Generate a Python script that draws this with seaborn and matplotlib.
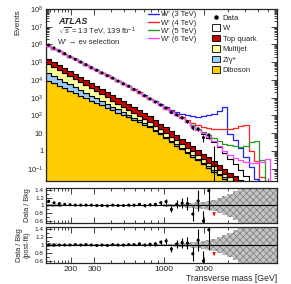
import numpy as np
import pandas as pd
import seaborn as sns
import matplotlib
matplotlib.use("Agg")
import matplotlib.pyplot as plt
from matplotlib.ticker import FixedLocator, FuncFormatter, LogLocator, NullFormatter, MultipleLocator, FormatStrFormatter
from matplotlib.lines import Line2D
from matplotlib.patches import Patch

sns.set_theme(style="ticks")
plt.rcParams["font.family"] = ["Liberation Sans", "DejaVu Sans"]
plt.rcParams["mathtext.fontset"] = "custom"
plt.rcParams["mathtext.rm"] = "Liberation Sans"
plt.rcParams["mathtext.it"] = "Liberation Sans:italic"
plt.rcParams["mathtext.bf"] = "Liberation Sans:bold"
plt.rcParams["hatch.linewidth"] = 0.5

# ---------------- data ----------------
bin_edges = [130, 142.5, 156.3, 171.4, 187.9, 206.0, 225.9, 247.7, 271.6, 297.8, 326.5, 358.0,
             392.6, 430.5, 472.0, 517.5, 567.5, 622.2, 682.3, 748.1, 820.2, 899.4, 986.2,
             1081.3, 1185.6, 1300, 1425.5, 1563, 1713.8, 1879, 2060, 2259, 2477, 2716, 2978,
             3265, 3580, 3926, 4305, 4720, 5175, 5675, 6222, 7000]

# log10 of the stack top after each process (W top = total background)
top_w_log = [5.92, 5.77, 5.62, 5.47, 5.31, 5.16, 5.01, 4.86, 4.70, 4.55, 4.40, 4.25, 4.10, 3.94, 3.79,
             3.64, 3.46, 3.29, 3.11, 2.93, 2.75, 2.56, 2.38, 2.20, 2.02, 1.84, 1.63, 1.41, 1.19, 0.97,
             0.75, 0.52, 0.20, -0.12, -0.44, -0.76, -1.08, -1.40, -1.72, -2.06, -2.40, -2.74, -3.12]
top_top_log = [5.17, 5.00, 4.83, 4.66, 4.49, 4.32, 4.15, 3.98, 3.82, 3.65, 3.48, 3.31, 3.14, 2.97, 2.80,
               2.63, 2.46, 2.30, 2.13, 1.96, 1.75, 1.54, 1.32, 1.11, 0.90, 0.69, 0.48, 0.26, 0.05, -0.16,
               -0.37, -0.58, -0.80, -1.01, -1.22, -1.43, -1.64, -1.86, -2.10, -2.45, -2.80, -3.15, -3.50]
top_mj_log = [4.91, 4.74, 4.57, 4.40, 4.22, 4.05, 3.88, 3.70, 3.53, 3.36, 3.19, 3.01, 2.84, 2.67, 2.49,
              2.32, 2.15, 1.98, 1.80, 1.63, 1.42, 1.21, 1.01, 0.80, 0.59, 0.38, 0.17, -0.03, -0.24, -0.45,
              -0.66, -0.87, -1.07, -1.28, -1.49, -1.70, -1.91, -2.11, -2.35, -2.70, -3.05, -3.40, -3.75]
top_z_log = [4.37, 4.22, 4.06, 3.90, 3.75, 3.59, 3.44, 3.28, 3.12, 2.97, 2.81, 2.66, 2.50, 2.34, 2.19,
             2.03, 1.88, 1.72, 1.56, 1.41, 1.20, 0.99, 0.79, 0.58, 0.37, 0.17, -0.04, -0.25, -0.46, -0.66,
             -0.87, -1.08, -1.29, -1.49, -1.70, -1.91, -2.11, -2.32, -2.55, -2.90, -3.25, -3.60, -3.95]
top_db_log = [3.93, 3.80, 3.66, 3.52, 3.39, 3.25, 3.11, 2.98, 2.84, 2.70, 2.57, 2.43, 2.30, 2.16, 2.02,
              1.89, 1.75, 1.61, 1.48, 1.34, 1.13, 0.93, 0.72, 0.51, 0.30, 0.09, -0.12, -0.33, -0.54, -0.75,
              -0.96, -1.17, -1.38, -1.59, -1.80, -2.01, -2.22, -2.43, -2.65, -3.00, -3.35, -3.70, -4.05]

# log10 of W' signal contents (stacked on top of the background)
sig3_log = [1.0, 1.05, 1.1, 1.15, 1.2, 1.25, 1.3, 1.33, 1.36, 1.4, 1.43, 1.46, 1.49, 1.52, 1.55, 1.57,
            1.6, 1.62, 1.64, 1.66, 1.68, 1.7, 1.71, 1.72, 1.73, 1.74, 1.76, 1.79, 1.84, 1.9, 1.98, 2.08,
            2.22, 2.5, 0.95, 0.6, 0.15, -0.4, -1.0, -1.8, -2.5, -3.0, -3.5]
sig4_log = [0.3, 0.35, 0.4, 0.45, 0.5, 0.55, 0.6, 0.63, 0.66, 0.7, 0.73, 0.76, 0.79, 0.82, 0.85, 0.87,
            0.9, 0.92, 0.94, 0.96, 0.98, 1.0, 1.02, 1.04, 1.06, 1.08, 1.1, 1.12, 1.14, 1.15, 1.16, 1.17,
            1.18, 1.2, 1.24, 1.3, 1.38, 1.45, 0.0, -0.6, -1.5, -2.5, -3.0]
sig5_log = [-0.2, -0.17, -0.14, -0.11, -0.08, -0.05, -0.02, 0.0, 0.02, 0.04, 0.06, 0.08, 0.1, 0.12,
            0.14, 0.16, 0.18, 0.2, 0.22, 0.24, 0.26, 0.28, 0.29, 0.3, 0.31, 0.32, 0.32, 0.32, 0.32,
            0.31, 0.3, 0.29, 0.27, 0.25, 0.23, 0.22, 0.22, 0.25, 0.52, 0.55, -0.5, -2.5, -3.0]
sig6_log = [-1.2, -1.17, -1.14, -1.11, -1.08, -1.05, -1.02, -0.99, -0.96, -0.93, -0.9, -0.87, -0.84,
            -0.81, -0.78, -0.75, -0.72, -0.7, -0.68, -0.66, -0.64, -0.62, -0.6, -0.58, -0.57, -0.56,
            -0.55, -0.55, -0.55, -0.55, -0.56, -0.57, -0.58, -0.6, -0.62, -0.64, -0.66, -0.68, -0.7,
            -0.7, -0.62, -0.45, -3.0]

# data / background ratios (pre-fit and post-fit) for the populated bins
ratio_prefit = [1.11, 1.07, 1.05, 1.03, 1.02, 1.01, 1.01, 1.01, 1.01, 1.00, 1.00, 0.99, 1.01, 1.00, 1.00,
                1.01, 1.01, 1.03, 1.00, 1.02, 1.03, 1.07, 1.10, 0.90, 1.03, 1.06, 1.05, 0.78, 1.12, 0.60, 1.38]
ratio_postfit = [1.00, 1.00, 1.00, 1.00, 1.00, 1.01, 1.00, 1.01, 1.00, 0.99, 1.00, 0.99, 1.01, 1.00, 1.00,
                 1.01, 1.01, 1.03, 1.00, 1.02, 1.03, 1.07, 1.10, 0.90, 1.03, 1.06, 1.05, 0.78, 1.12, 0.60, 1.38]
empty_bin = 31          # bin with zero observed events
zero_upper = 1.84       # Poisson upper error for zero events
bkg_unc = [0.05, 0.04, 0.03, 0.025, 0.02, 0.02, 0.02, 0.02, 0.02, 0.02, 0.02, 0.02, 0.02, 0.02, 0.02,
           0.02, 0.02, 0.02, 0.02, 0.02, 0.02, 0.025, 0.03, 0.035, 0.04, 0.05, 0.06, 0.07, 0.08, 0.10,
           0.12, 0.15, 0.19, 0.24, 0.30, 0.38, 0.46, 0.5, 0.5, 0.5, 0.5, 0.5, 0.5]

processes = ["W", "Top quark", "Multijet", "Z/γ*", "Diboson"]
proc_colors = {"W": "#ffffff", "Top quark": "#cc0000", "Multijet": "#ffff99",
               "Z/γ*": "#99ccff", "Diboson": "#ffcc00"}
signal_labels = ["W' (3 TeV)", "W' (4 TeV)", "W' (5 TeV)", "W' (6 TeV)"]
signal_colors = ["#2222ff", "#ff2222", "#229922", "#ff44ff"]

# ---------------- derived tables ----------------
edges = np.array(bin_edges, dtype=float)
centers = np.sqrt(edges[:-1] * edges[1:])
tops = [10 ** np.array(t) for t in (top_w_log, top_top_log, top_mj_log, top_z_log, top_db_log)]
contents = [tops[i] - tops[i + 1] for i in range(4)] + [tops[4]]
bkg_total = tops[0]
rows = []
for name, c in zip(processes, contents):
    for x, w in zip(centers, c):
        rows.append({"mT": x, "events": w, "process": name})
df = pd.DataFrame(rows)

nd = len(ratio_prefit)
data = bkg_total[:nd] * np.array(ratio_prefit)
data_err = np.sqrt(data)
postfit_bkg = data / np.array(ratio_postfit)

# ---------------- figure ----------------
fig = plt.figure(figsize=(2.91, 2.84), dpi=100)
W, H = 291.0, 284.0
ax = fig.add_axes([46 / W, 1 - 181 / H, 231 / W, 172 / H])
ax1 = fig.add_axes([46 / W, 1 - 223 / H, 231 / W, 35 / H], sharex=ax)
ax2 = fig.add_axes([46 / W, 1 - 263 / H, 231 / W, 36 / H], sharex=ax)

sns.histplot(data=df, x="mT", weights="events", hue="process", hue_order=processes,
             multiple="stack", bins=list(bin_edges), element="step", fill=True, palette=proc_colors,
             edgecolor="black", linewidth=0.8, alpha=1, legend=False, ax=ax)

for s, col in zip((sig3_log, sig4_log, sig5_log, sig6_log), signal_colors):
    sns.histplot(x=centers, weights=bkg_total + 10 ** np.array(s), bins=list(bin_edges), element="step",
                 fill=False, color=col, linewidth=0.9, ax=ax, zorder=4)

ax.errorbar(centers[:nd], data, yerr=data_err, fmt="none", ecolor="black", elinewidth=0.8, zorder=5)
sns.scatterplot(x=centers[:nd], y=data, color="black", s=5, edgecolor="none", ax=ax, zorder=6)
ax.vlines(centers[empty_bin], 1e-3, zero_upper, color="black", lw=0.8, zorder=5)

ax.set_xscale("log")
ax.set_yscale("log")
ax.set_xlim(edges[0], edges[-1])
ax.set_ylim(0.02, 1e8)


def ylab(v, pos):
    if abs(v - 1) < 1e-9:
        return "1"
    if abs(v - 10) < 1e-9:
        return "10"
    return r"$10^{%d}$" % int(round(np.log10(v)))


ax.yaxis.set_major_locator(LogLocator(base=10, numticks=20))
ax.yaxis.set_minor_locator(LogLocator(base=10, subs=np.arange(2, 10), numticks=20))
ax.yaxis.set_major_formatter(FuncFormatter(ylab))
ax.yaxis.set_minor_formatter(NullFormatter())

xmaj = [200, 300, 1000, 2000]
xmin = [140, 150, 160, 170, 180, 190, 400, 500, 600, 700, 800, 900, 3000, 4000, 5000, 6000, 7000]
for a in (ax, ax1, ax2):
    a.xaxis.set_major_locator(FixedLocator(xmaj))
    a.xaxis.set_minor_locator(FixedLocator(xmin))
    a.xaxis.set_minor_formatter(NullFormatter())
    a.tick_params(which="both", direction="in", top=True, right=True, labelsize=6, pad=2, width=0.6)
    a.tick_params(which="major", length=4)
    a.tick_params(which="minor", length=2)
    for sp in a.spines.values():
        sp.set_linewidth(0.9)
ax.tick_params(labelbottom=False, labelsize=5.5)
ax1.tick_params(labelbottom=False)
ax2.xaxis.set_major_formatter(FormatStrFormatter("%d"))

# ratio panels
unc = np.array(bkg_unc)
lo = np.append(1 - unc, 1 - unc[-1])
hi = np.append(1 + unc, 1 + unc[-1])
for a, r, bk in ((ax1, ratio_prefit, bkg_total[:nd]), (ax2, ratio_postfit, postfit_bkg)):
    a.fill_between(edges, lo, hi, step="post", facecolor="#c4c4c4", hatch="xxxxx",
                   edgecolor="#7a7a7a", linewidth=0, zorder=1)
    a.axhline(1, color="black", lw=0.8, zorder=2)
    rerr = data_err / bk
    a.errorbar(centers[:nd], r, yerr=rerr, fmt="none", ecolor="black", elinewidth=0.8, zorder=4)
    sns.scatterplot(x=centers[:nd], y=r, color="black", s=5, edgecolor="none", ax=a, zorder=5)
    a.annotate("", xy=(centers[empty_bin], 0.66), xytext=(centers[empty_bin], 0.84),
               arrowprops=dict(arrowstyle="-|>", color="red", lw=0.7, mutation_scale=4), zorder=6)
    a.set_ylim(0.55, 1.45)
    a.yaxis.set_major_locator(FixedLocator([0.6, 0.8, 1.0, 1.2, 1.4]))
    a.yaxis.set_major_formatter(FormatStrFormatter("%g"))
    a.yaxis.set_minor_locator(MultipleLocator(0.1))
    a.tick_params(axis="y", labelsize=4.6, pad=1.5)

ax.set_xlabel("")
ax1.set_xlabel("")
ax.set_ylabel("Events", loc="top", fontsize=6)
ax1.set_ylabel("Data / Bkg", fontsize=5.2, labelpad=3)
ax2.set_ylabel("Data / Bkg\n(post-fit)", fontsize=5.2, linespacing=1.1, labelpad=3)
ax2.set_xlabel("Transverse mass [GeV]", loc="right", fontsize=6.2, labelpad=1)

# text
fig.text(58 / W, 1 - 21 / H, "ATLAS", fontsize=6.5, fontweight="bold", fontstyle="italic", va="center")
fig.text(58 / W, 1 - 32 / H, r"$\sqrt{s}$ = 13 TeV, 139 fb$^{-1}$", fontsize=5.5, va="center")
fig.text(58 / W, 1 - 43 / H, "W' → eν selection", fontsize=5.5, va="center")

# legends
sig_handles = [Line2D([], [], color=c, lw=1) for c in signal_colors]
leg1 = ax.legend(sig_handles, signal_labels, loc="upper left", bbox_to_anchor=(148 / W, 1 - 11 / H),
                 bbox_transform=fig.transFigure, frameon=False, fontsize=5.5, handlelength=1.4,
                 handletextpad=0.3, labelspacing=0.12, borderpad=0, borderaxespad=0)
ax.add_artist(leg1)
bk_handles = [Line2D([], [], color="black", marker="o", ms=2.2, lw=0)] + \
             [Patch(facecolor=proc_colors[p], edgecolor="black", lw=0.6) for p in processes]
leg2 = ax.legend(bk_handles, ["Data"] + processes, loc="upper left", bbox_to_anchor=(212 / W, 1 - 14 / H),
                 bbox_transform=fig.transFigure, frameon=False, fontsize=5.5, handlelength=1.0,
                 handleheight=0.9, handletextpad=0.4, labelspacing=0.35, borderpad=0, borderaxespad=0)

fig.savefig("out.png", dpi=100)
